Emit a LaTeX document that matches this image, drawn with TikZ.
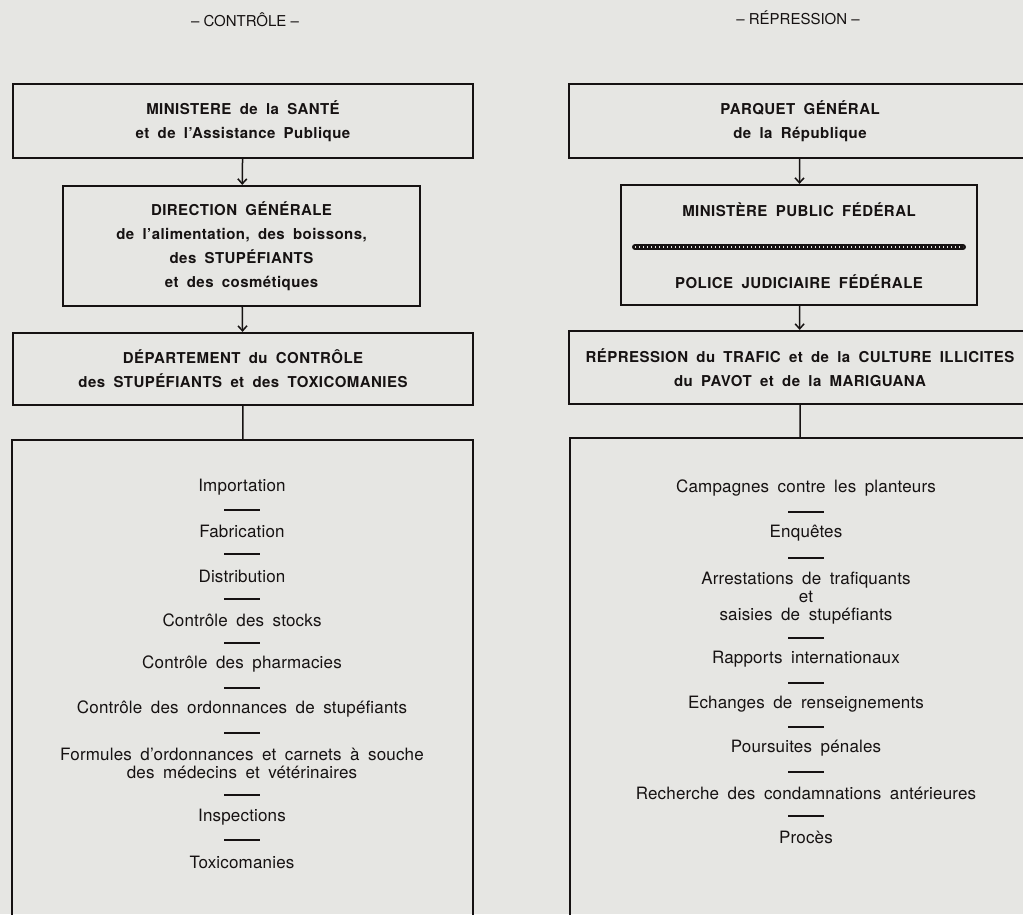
\documentclass[tikz,border=0pt]{standalone}
\usepackage{fontspec}
\setmainfont{TeX Gyre Heros}
\newfontfamily\hdrfont[LetterSpace=3,WordSpace=1.8]{TeX Gyre Heros}
\newfontfamily\listfont[LetterSpace=1,WordSpace=1.75]{TeX Gyre Heros}
\usetikzlibrary{arrows.meta}

\definecolor{paper}{RGB}{230,230,227}
\definecolor{ink}{RGB}{22,18,18}

\begin{document}
\begin{tikzpicture}[x=1pt,y=-1pt]

	\tikzset{box/.style = {draw=ink, line width=2.2pt, inner sep=0pt, align=center, text=ink,
			font=\hdrfont\bfseries\fontsize{15}{24}\selectfont}}
	\tikzset{title/.style = {text=ink, font=\fontsize{15}{16}\selectfont}}
	\tikzset{entry/.style = {text=ink, align=center, inner sep=1pt, font=\listfont\fontsize{17}{18}\selectfont}}
	\tikzset{rulebar/.style = {fill=ink, minimum width=36pt, minimum height=1.6pt, inner sep=0pt}}
	\tikzset{flow/.style = {draw=ink, line width=1.5pt, -{Straight Barb[length=5pt,width=9pt]}}}
	\tikzset{link/.style = {draw=ink, line width=1.6pt}}

	\useasboundingbox (0,0) rectangle (1023,914);
	\fill[paper] (0,0) rectangle (1023,914);
	\clip (0,0) rectangle (1023,914);

	% titres des deux colonnes
	\node[title] (ctrl) at (245,20) {– CONTRÔLE –};
	\node[title] (repr) at (798,18) {– RÉPRESSION –};

	% colonne de gauche : controle
	\node[box, minimum width=460, minimum height=74] (sante) at (243,121)
		{MINISTERE de la SANTÉ\\et de l’Assistance Publique};
	\node[box, minimum width=357, minimum height=120] (direction) at (241.5,246)
		{DIRECTION GÉNÉRALE\\de l’alimentation, des boissons,\\des STUPÉFIANTS\\et des cosmétiques};
	\node[box, minimum width=460, minimum height=72] (departement) at (243,369)
		{DÉPARTEMENT du CONTRÔLE\\des STUPÉFIANTS et des TOXICOMANIES};
	\node[box, minimum width=461, minimum height=520] (taches) at (242.5,700) {};

	\draw[flow] (sante) -- (direction);
	\draw[flow] (direction) -- (departement);
	\draw[link] (departement) -- (taches);

	\node[entry] (importation) at (242,487) {Importation};
	\node[rulebar] (g1) at (242,510) {};
	\node[entry] (fabrication) at (242,531) {Fabrication};
	\node[rulebar] (g2) at (242,554) {};
	\node[entry] (distribution) at (242,576) {Distribution};
	\node[rulebar] (g3) at (242,599) {};
	\node[entry] (stocks) at (242,620) {Contrôle des stocks};
	\node[rulebar] (g4) at (242,643) {};
	\node[entry] (pharmacies) at (242,664) {Contrôle des pharmacies};
	\node[rulebar] (g5) at (242,688) {};
	\node[entry] (ordonnances) at (242,709) {Contrôle des ordonnances de stupéfiants};
	\node[rulebar] (g6) at (242,733) {};
	\node[entry] (formules) at (242,763) {Formules d’ordonnances et carnets à souche\\des médecins et vétérinaires};
	\node[rulebar] (g7) at (242,795) {};
	\node[entry] (inspections) at (242,817) {Inspections};
	\node[rulebar] (g8) at (242,840) {};
	\node[entry] (toxicomanies) at (242,862) {Toxicomanies};

	% colonne de droite : repression
	\node[box, minimum width=462, minimum height=74] (parquet) at (800,121)
		{PARQUET GÉNÉRAL\\de la République};
	\node[box, minimum width=356, minimum height=120] (federal) at (799,245) {};
	\node[box, minimum width=462, minimum height=73] (trafic) at (800,367.5)
		{RÉPRESSION du TRAFIC et de la CULTURE ILLICITES\\du PAVOT et de la MARIGUANA};
	\node[box, minimum width=461, minimum height=520] (actions) at (800.5,698) {};

	\node[box, draw=none] (ministere) at (799,210) {MINISTÈRE PUBLIC FÉDÉRAL};
	\node[box, draw=none] (police) at (799,282) {POLICE JUDICIAIRE FÉDÉRALE};
	\coordinate (chainL) at (635,247);
	\coordinate (chainR) at (963,247);
	\draw[ink, line width=6pt, line cap=round] (chainL) -- (chainR);
	\draw[paper, line width=2.4pt, dash pattern=on 1.3pt off 2.7pt] (chainL) -- (chainR);

	\draw[flow] (parquet) -- (federal);
	\draw[flow] (federal) -- (trafic);
	\draw[link] (trafic) -- (actions);

	\node[entry] (campagnes) at (806,488) {Campagnes contre les planteurs};
	\node[rulebar] (d1) at (806,512) {};
	\node[entry] (enquetes) at (806,533) {Enquêtes};
	\node[rulebar] (d2) at (806,558) {};
	\node[entry] (arrestations) at (806,598) {Arrestations de trafiquants\\et\\saisies de stupéfiants};
	\node[rulebar] (d3) at (806,638) {};
	\node[entry] (rapports) at (806,659) {Rapports internationaux};
	\node[rulebar] (d4) at (806,683) {};
	\node[entry] (echanges) at (806,704) {Echanges de renseignements};
	\node[rulebar] (d5) at (806,727) {};
	\node[entry] (poursuites) at (806,748) {Poursuites pénales};
	\node[rulebar] (d6) at (806,772) {};
	\node[entry] (recherche) at (806,793) {Recherche des condamnations antérieures};
	\node[rulebar] (d7) at (806,816) {};
	\node[entry] (proces) at (806,837) {Procès};

\end{tikzpicture}
\end{document}
